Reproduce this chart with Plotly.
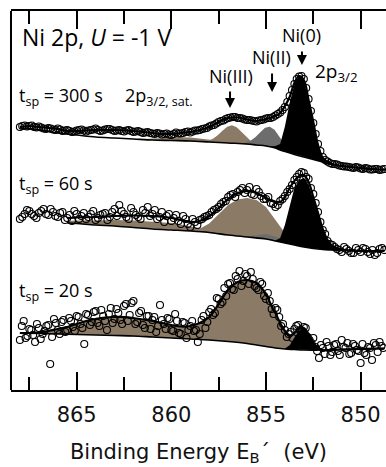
import numpy as np
import plotly.graph_objects as go

# ---------------- data (binding energy in eV, intensity in arb. units, spectra offset) ----------------
# t_sp = 300 s  (two interleaved sampling sets)
data300_I = [273, 274.5, 274, 273, 273.5, 271.5, 272, 270.5, 271.5, 269, 270, 268, 269.5, 270.5, 268.5, 270,
             271.5, 269, 270.5, 271, 269, 270, 268.5, 270, 268, 269, 267, 268, 266.5, 267, 265.5, 266.5,
             265, 267.5, 266.5, 268, 267.5, 269.5, 270, 271.5, 273.5, 275, 278, 279.5, 282, 283, 282, 281.5,
             280, 279.5, 278.5, 280, 281.5, 282, 284.5, 287.5, 293, 304, 316, 323.5, 321, 301, 277, 256,
             243, 238.5, 236, 235.5, 234, 233.5, 232.5, 233, 231.5, 232, 230.5, 231, 230, 231]
data300b_I = [274, 273.5, 274.5, 272.5, 272.5, 271, 271.5, 270, 270.5, 269.5, 269, 268.5, 270, 269.5, 269.5,
              270.5, 270, 269.5, 271, 270, 269.5, 269, 269.5, 269, 268.5, 268, 267.5, 267, 266, 266.5, 266,
              265.5, 266, 266.5, 267, 268.5, 268.5, 269.5, 271, 272, 274.5, 276.5, 279, 281, 282.5, 283, 282,
              280.5, 280, 279, 279.5, 280.5, 282, 283, 286, 290, 298, 310, 321, 324, 312, 289, 266, 249, 240,
              237, 236, 234.5, 233.5, 233, 232, 232.5, 231, 231.5, 230.5, 231, 230.5]
bg300_E = [868.0, 867.0, 866.0, 865.0, 864.0, 863.0, 862.0, 861.0, 860.0, 859.0, 858.0, 857.0, 856.0, 855.5,
           855.0, 854.5, 854.25, 854.0, 853.5, 853.0, 852.5, 852.0, 851.5, 851.0, 850.0, 849.0, 848.6]
bg300_I = [272, 270, 267, 265, 263, 262, 261, 260, 259.5, 259, 258, 257, 256, 255,
           254, 252, 250, 248.5, 245.5, 243, 240.5, 238, 235.5, 234, 232, 230.5, 230.5]
fit300_E = [868.0, 867.5, 867.0, 866.5, 866.0, 865.5, 865.0, 864.5, 864.0, 863.5, 863.0, 862.5, 862.0, 861.5,
            861.0, 860.5, 860.0, 859.5, 859.0, 858.5, 858.0, 857.5, 857.0, 856.5, 856.0, 855.5, 855.0,
            854.5, 854.25, 854.0, 853.75, 853.5, 853.25, 853.0, 852.75, 852.5, 852.25, 852.0, 851.75, 851.5,
            851.0, 850.5, 850.0, 849.5, 849.0, 848.6]
fit300_I = [273, 274, 273, 272, 271, 269, 269, 269.5, 270, 270, 270, 269.5, 269, 268, 267, 266, 266, 267, 268,
            270, 273, 278, 282, 282.5, 280.5, 279, 281,
            284, 287, 294, 303, 317, 324, 320, 300, 278, 255, 242, 238, 236,
            234, 233, 232, 231, 230.5, 230.5]
sat300_E = [861.5, 861.0, 860.5, 860.0, 859.5, 859.0, 858.5, 858.0, 857.5, 857.0, 856.5, 856.0, 855.5]
sat300_H = [0.5, 1.5, 2.5, 3, 3.5, 3.5, 3, 2.5, 2, 1.5, 1, 0.5, 0]
ni3_300_E = [858.3, 858.05, 857.8, 857.55, 857.3, 857.05, 856.8, 856.55, 856.3, 856.05, 855.8, 855.55, 855.3]
ni3_300_H = [0.4, 1.3, 3.5, 7.1, 11.9, 16.3, 18, 16.3, 11.9, 7.1, 3.5, 1.3, 0.4]
ni2_300_E = [856.3, 856.05, 855.8, 855.55, 855.3, 855.05, 854.8, 854.55, 854.3, 854.05, 853.8, 853.55, 853.3]
ni2_300_H = [0.4, 1.4, 3.9, 7.9, 13.2, 18.1, 20, 18.1, 13.2, 7.9, 3.9, 1.4, 0.4]
ni0_300_E = [854.75, 854.5, 854.25, 854.0, 853.75, 853.5, 853.25, 853.0, 852.75, 852.5, 852.25, 852.0, 851.75, 851.5]
ni0_300_H = [0.5, 2, 6, 25, 50, 70, 80, 77, 57, 38, 17, 5, 1.5, 0.3]

# t_sp = 60 s  (two interleaved sampling sets)
data60_I = [181, 186, 189, 184, 187, 191, 185, 188, 183, 188, 182, 179, 186, 184, 181, 186, 180, 185, 187, 183,
            191, 195, 186, 181, 188, 183, 190, 193, 186, 181, 188, 184, 179, 185, 176, 181, 173, 178, 180, 183,
            185, 190, 193, 198, 203, 206, 208, 212, 210, 206, 211, 204, 201, 197, 193, 199, 204, 211, 220, 226,
            227, 221, 206, 188, 170, 159, 155, 151, 148, 151, 147, 152, 148, 151, 146, 145, 151, 150]
data60b_I = [183, 190, 186, 182, 189, 186, 191, 184, 187, 180, 185, 189, 181, 187, 183, 189, 182, 186, 180, 188,
             184, 189, 183, 192, 185, 181, 187, 184, 190, 183, 178, 186, 182, 179, 184, 176, 181, 175, 181, 184,
             188, 191, 196, 199, 205, 203, 210, 207, 213, 205, 208, 201, 203, 196, 195, 201, 208, 215, 223, 228,
             223, 212, 197, 178, 166, 156, 153, 150, 153, 149, 147, 150, 152, 148, 150, 147, 152]
bg60_E = [865.5, 865.0, 864.0, 863.0, 862.0, 861.0, 860.0, 859.0, 858.0, 857.0, 856.0, 855.0,
          854.5, 854.0, 853.5, 853.0, 852.5, 852.0, 851.5, 851.0, 850.0, 849.0, 848.75]
bg60_I = [177, 176.5, 175, 174, 172.5, 171, 170, 169, 167.5, 165, 163, 161,
          159, 157, 155, 153, 151.5, 150.5, 150, 149.5, 149, 149, 149]
fit60_E = [865.5, 865.0, 864.0, 863.0, 862.0, 861.0, 860.0, 859.5, 859.0, 858.5, 858.0, 857.5, 857.0, 856.5,
           856.0, 855.5, 855.0, 854.5, 854.25, 854.0, 853.75, 853.5, 853.25, 853.0, 852.75, 852.5, 852.25,
           852.0, 851.75, 851.5, 851.0, 850.5, 850.0, 849.0, 848.75]
fit60_I = [182, 182.5, 183, 184, 184.5, 184, 182, 180, 178, 179, 184, 192, 201, 207, 209, 207, 202, 198,
           198, 203, 212, 219, 224, 225, 218, 203, 187, 171, 160, 154, 150.5, 149.5, 149, 149, 149]
sat60_E = [865.5, 865.0, 864.0, 863.0, 862.0, 861.0, 860.0, 859.5, 859.0, 858.5, 858.0, 857.5, 857.0]
sat60_H = [2, 3, 4.5, 6, 7, 7.5, 7, 6, 5, 3.5, 2, 1, 0.3]
ni3_60_E = [858.75, 858.5, 858.0, 857.5, 857.0, 856.5, 856.0, 855.5, 855.0, 854.5, 854.0, 853.5, 853.0]
ni3_60_H = [1, 3, 9, 20, 30, 36.5, 39, 38, 32, 21, 10, 3, 0.5]
ni2_60_E = [856.0, 855.5, 855.0, 854.5, 854.0, 853.5]
ni2_60_H = [0.5, 3, 5, 4.5, 2, 0.5]
ni0_60_E = [854.5, 854.25, 854.0, 853.75, 853.5, 853.25, 853.0, 852.75, 852.5, 852.25, 852.0, 851.75, 851.5,
            851.25, 851.0]
ni0_60_H = [0.5, 4, 18, 39, 57, 66, 69, 63, 50, 35, 20.5, 11, 5, 2, 0.5]

# t_sp = 20 s  (two interleaved sampling sets)
data20_I = [60, 79, 64, 70, 58, 72, 66, 74, 36, 81, 70, 78, 68, 82, 73, 84, 76, 56, 85, 78,
            89, 74, 84, 70, 92, 81, 87, 76, 96, 85, 99, 78, 89, 72, 84, 80, 68, 95, 76, 82,
            70, 86, 67, 78, 62, 74, 69, 58, 80, 72, 88, 85, 102, 96, 112, 116, 111, 124, 129, 119,
            124, 128, 114, 110, 116, 101, 99, 86, 90, 74, 70, 66, 62, 74, 70, 73, 63, 57, 53, 42,
            52, 58, 45, 55, 49, 60, 52, 46, 56, 50, 37, 47, 53, 40, 55, 58, 52]
data20b_I = [74, 62, 71, 65, 76, 61, 69, 75, 63, 77, 66, 80, 70, 79, 69, 83, 72, 86, 75, 88,
             77, 90, 79, 86, 77, 91, 80, 94, 79, 97, 76, 87, 75, 84, 71, 83, 74, 80, 71, 81,
             69, 79, 66, 77, 70, 79, 70, 66, 84, 78, 91, 87, 101, 98, 104, 117, 110, 121, 114, 126,
             116, 121, 112, 118, 104, 107, 91, 92, 83, 76, 63, 68, 71, 75, 68, 72, 60, 62, 49, 55,
             46, 54, 48, 56, 45, 53, 57, 47, 54, 49, 56, 45, 52, 57, 48, 54]
bg20_E = [868.0, 867.0, 866.0, 865.0, 864.0, 863.0, 862.0, 861.0, 860.0, 859.0, 858.0, 857.0, 856.0,
          855.5, 855.0, 854.5, 854.0, 853.5, 853.0, 852.0, 851.0, 850.0, 849.0, 848.75]
bg20_I = [67, 66.5, 66, 65.5, 65, 64.5, 64, 63, 62, 61, 60, 58.5, 56.5,
          55, 53.5, 52, 51, 50.5, 50, 50, 50.5, 51, 51.5, 51.5]
fit20_E = [868.0, 867.5, 867.0, 866.5, 866.0, 865.5, 865.0, 864.5, 864.0, 863.5, 863.0, 862.5, 862.0, 861.5,
           861.0, 860.5, 860.0, 859.5, 859.0, 858.5, 858.0, 857.5, 857.0, 856.5, 856.0, 855.5, 855.0,
           854.75, 854.5, 854.25, 854.0, 853.75, 853.5, 853.25, 853.0, 852.75, 852.5, 852.25, 852.0,
           851.0, 850.0, 849.0, 848.75]
fit20_I = [67, 67, 67.5, 69, 71, 73, 76, 79, 81, 82.5, 83, 83, 82, 80.5, 79, 77, 75, 73.5, 74, 77, 83, 96,
           110, 118, 120, 117, 106,
           96, 87, 77, 69, 64, 67, 72, 72, 66, 57, 52, 50,
           50.5, 51, 51.5, 51.5]
ni0_20_E = [854.0, 853.75, 853.5, 853.25, 853.0, 852.75, 852.5, 852.25, 852.0]
ni0_20_H = [0.5, 4, 12, 19, 22, 17, 8, 3, 0.5]

tick_vals = [865, 860, 855, 850]
tick_text = ["865", "860", "855", "850"]
minor_vals = [867.5, 862.5, 857.5, 852.5]

BROWN = "#8b7a66"
GRAY = "#6d6d6d"
BLACK = "#000000"

fig = go.Figure()


def interp_bg(E, bgE, bgI):
    return np.interp(E, bgE[::-1], bgI[::-1])


def component(E, H, bgE, bgI, color):
    E = np.array(E, float)
    base = interp_bg(E, np.array(bgE, float), np.array(bgI, float))
    top = base + np.array(H, float)
    xs = list(E) + list(E[::-1])
    ys = list(top) + list(base[::-1])
    fig.add_trace(go.Scatter(x=xs, y=ys, fill="toself", fillcolor=color, mode="lines",
                             line=dict(width=0, color=color), hoverinfo="skip", showlegend=False))


def data_energies(vals, start, step):
    return np.round(start - step * np.arange(len(vals)), 3)


# ---- 300 s ----
component(sat300_E, sat300_H, bg300_E, bg300_I, BROWN)
component(ni3_300_E, ni3_300_H, bg300_E, bg300_I, BROWN)
component(ni2_300_E, ni2_300_H, bg300_E, bg300_I, GRAY)
component(ni0_300_E, ni0_300_H, bg300_E, bg300_I, BLACK)
# ---- 60 s ----
component(sat60_E, sat60_H, bg60_E, bg60_I, BROWN)
component(ni3_60_E, ni3_60_H, bg60_E, bg60_I, BROWN)
component(ni2_60_E, ni2_60_H, bg60_E, bg60_I, GRAY)
component(ni0_60_E, ni0_60_H, bg60_E, bg60_I, BLACK)
# ---- 20 s : oxide envelope between background and fit ----
fig.add_trace(go.Scatter(x=list(fit20_E) + list(bg20_E[::-1]), y=list(fit20_I) + list(bg20_I[::-1]),
                         fill="toself", fillcolor=BROWN, mode="lines", line=dict(width=0, color=BROWN),
                         hoverinfo="skip", showlegend=False))
component(ni0_20_E, ni0_20_H, bg20_E, bg20_I, BLACK)

for bgE, bgI, fE, fI in [(bg300_E, bg300_I, fit300_E, fit300_I),
                         (bg60_E, bg60_I, fit60_E, fit60_I),
                         (bg20_E, bg20_I, fit20_E, fit20_I)]:
    fig.add_trace(go.Scatter(x=bgE, y=bgI, mode="lines", line=dict(color=BLACK, width=1.6, shape="spline"),
                             showlegend=False, hoverinfo="skip"))
    fig.add_trace(go.Scatter(x=fE, y=fI, mode="lines", line=dict(color=BLACK, width=2.2, shape="spline"),
                             showlegend=False, hoverinfo="skip"))

for vals, start, step in [(data300_I, 868.0, 0.25), (data300b_I, 867.875, 0.25),
                          (data60_I, 868.0, 0.25), (data60b_I, 867.875, 0.25),
                          (data20_I, 868.0, 0.2), (data20b_I, 867.9, 0.2)]:
    fig.add_trace(go.Scatter(x=data_energies(vals, start, step), y=vals, mode="markers",
                             marker=dict(symbol="circle-open", size=7, color=BLACK, line=dict(width=1.1)),
                             showlegend=False))

LBL = "Open Sans"
ann = []


def text(x, y, s, size, xanchor="left"):
    ann.append(dict(x=x, y=y, text=s, showarrow=False, xanchor=xanchor, yanchor="middle",
                    font=dict(family=LBL, size=size, color="black")))


def arrow(x, y, length):
    ann.append(dict(x=x, y=y, text="", showarrow=True, ax=0, ay=-length, arrowhead=2, arrowsize=1,
                    arrowwidth=2, arrowcolor="black"))


text(867.99, 363, "Ni 2p, <i>U</i> = -1 V", 23)
text(853.14, 365, "Ni(0)", 18, "center")
text(854.72, 343, "Ni(II)", 18, "center")
text(856.86, 324, "Ni(III)", 18, "center")
text(852.5, 328, "2p<sub>3/2</sub>", 19)
text(868.15, 304, "t<sub>sp</sub> = 300 s", 18)
text(862.55, 304, "2p<sub>3/2, sat.</sub>", 18)
text(868.15, 216, "t<sub>sp</sub> = 60 s", 18)
text(868.15, 109, "t<sub>sp</sub> = 20 s", 18)
arrow(853.1, 335, 15)
arrow(854.68, 308, 20)
arrow(856.9, 292, 18)

fig.update_layout(
    width=386, height=467, margin=dict(l=11, r=0, t=11, b=77, autoexpand=False),
    paper_bgcolor="white", plot_bgcolor="white", annotations=ann,
    shapes=[dict(type="line", xref="paper", yref="paper", x0=0, x1=0, y0=0, y1=1,
                 line=dict(color="black", width=2))],
    xaxis=dict(range=[868.47, 848.66], showgrid=False, zeroline=False, showline=True, linecolor="black",
               linewidth=2, mirror="ticks", ticks="inside", ticklen=18, tickwidth=2, tickcolor="black",
               tickvals=tick_vals, ticktext=tick_text, automargin=False, ticklabelstandoff=5,
               tickfont=dict(family="DejaVu Sans", size=21, color="#111"),
               minor=dict(tickvals=minor_vals, ticks="inside", ticklen=13, tickwidth=2,
                          tickcolor="black"),
               title=dict(text="Binding Energy E<sub>B</sub>´  (eV)",
                          font=dict(family="DejaVu Sans", size=21, color="#111"), standoff=18)),
    yaxis=dict(range=[10, 389], showgrid=False, zeroline=False, showline=False, visible=True,
               showticklabels=False, ticks="", automargin=False),
)
fig.write_html("out.html", config={"displayModeBar": False},
               post_script="document.body.style.margin='0px';"
                           "document.body.style.overflow='hidden';"
                           "document.documentElement.style.overflow='hidden';")
